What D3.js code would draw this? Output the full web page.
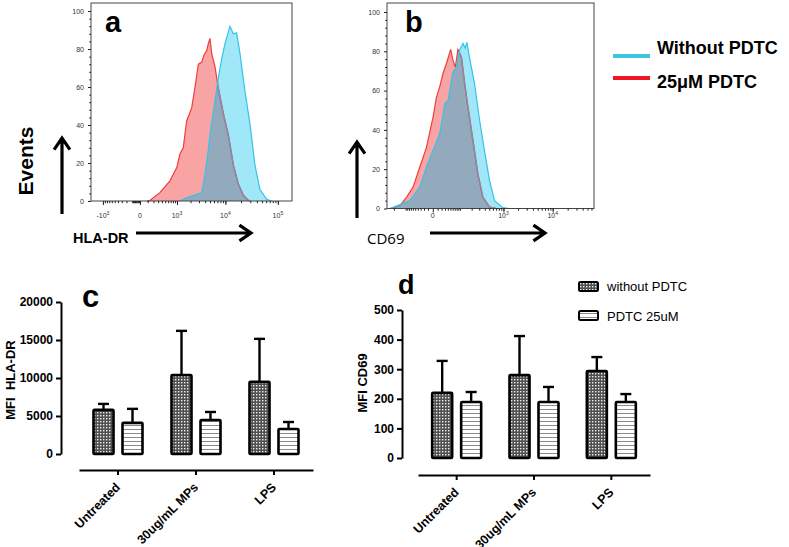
<!DOCTYPE html>
<html><head><meta charset="utf-8">
<script src="https://cdn.jsdelivr.net/npm/d3@7/dist/d3.min.js"></script>
<style>
body{margin:0;background:#fff;}
svg{display:block;font-family:"Liberation Sans",Arial,Helvetica,sans-serif;}
</style></head><body>
<svg id="fig" width="789" height="547"></svg>
<script>
// ---------------- DATA ----------------
// Flow-cytometry histograms: display channel (0-1024) vs events (% of max)
const hlaRedCh   = [285,301,351,402,437,453,470,487,513,530,547,564,576,589,598,606,615,632,649,674,699,725,750,776,801,810];
const hlaRedCnt  = [0,0.4,4.4,10.6,17.6,24.7,28,42,49,60,72,73,77,79,83,85.6,77.6,70.5,59,46,35,19,9,3,0.4,0];
const hlaBlueCh  = [453,487,538,564,581,598,606,615,632,649,666,683,708,725,742,759,784,810,835,861,895,920];
const hlaBlueCnt = [0,1.7,3.5,4.4,14,27,35,41,53,65,75,83,92,88,88.5,77.6,58,40.6,19,6,0.9,0];
const cd69RedCh   = [15,64,97,129,162,195,228,245,261,277,294,315,326,338,351,368,384,400,425,449,474,507,540];
const cd69RedCnt  = [0,1.5,5.8,10.9,21,31,46.6,56.8,62,68.7,73.8,81,75.5,72,81,77,63.6,51.7,34.7,17.7,5.8,0.7,0];
const cd69BlueCh  = [15,64,113,162,195,228,261,286,302,326,343,359,376,387,395,409,433,458,482,507,532,573,606];
const cd69BlueCnt = [0,2,4,10.9,21,29.6,38,53.4,55,69.5,72,80.6,84,81.5,84.5,76.4,63.6,44.9,29.6,14.3,4,0.4,0];
const countTicks = [0,20,40,60,80,100];
const hlaTickValues = [-1000,0,1000,10000,100000];
const hlaTickLabels = [["-10","3"],["0",""],["10","3"],["10","4"],["10","5"]];
const cd69TickValues = [0,1000,10000];
const cd69TickLabels = [["0",""],["10","3"],["10","4"]];
const histLegend = ["Without PDTC","25\u03bcM PDTC"];

// Bar charts: MFI mean and upper SD
const categories = ["Untreated","30ug/mL MPs","LPS"];
const seriesNames = ["without PDTC","PDTC 25uM"];
const hlaWithout = [5800,10400,9500];
const hlaWithoutSD = [790,5800,5650];
const hlaPdtc = [4100,4470,3290];
const hlaPdtcSD = [1840,1060,920];
const cd69Without = [220,280,294];
const cd69WithoutSD = [108,132,47];
const cd69Pdtc = [189,189,189];
const cd69PdtcSD = [34,51,27];
const hlaYTicks = [0,5000,10000,15000,20000];
const cd69YTicks = [0,100,200,300,400,500];

// ---------------- DRAWING ----------------
const svg = d3.select("#fig");
const defs = svg.append("defs");

// patterns
const pd = defs.append("pattern").attr("id","dots").attr("patternUnits","userSpaceOnUse").attr("width",3).attr("height",3);
pd.append("rect").attr("width",3).attr("height",3).attr("fill","#505050");
pd.append("rect").attr("x",1).attr("y",1).attr("width",1.4).attr("height",1.4).attr("fill","#f0f0f0");
const ps = defs.append("pattern").attr("id","stripes").attr("patternUnits","userSpaceOnUse").attr("width",4).attr("height",4);
ps.append("rect").attr("width",4).attr("height",4).attr("fill","#fff");
ps.append("rect").attr("y",1).attr("width",4).attr("height",1).attr("fill","#8a8a8a");
const fills = ["url(#dots)","url(#stripes)"];

function minorLog(maxNeg, maxPos, small){
  const m = [];
  const decs = small ? [10,100,1000,10000,100000] : [100,1000,10000,100000];
  decs.forEach(d=>{ for(let k=1;k<10;k++){ const v=k*d; if(v<=maxPos) m.push(v); if(v<=maxNeg) m.push(-v);} });
  return m;
}

function hist(o){
  const g = svg.append("g");
  const chX = d3.scaleLinear().domain([0,1024]).range([o.x0,o.x1]);
  const valX = d3.scaleSymlog().constant(o.c).domain(o.dom).range([o.x0,o.x1]);
  const y = d3.scaleLinear().domain([0,100]).range([o.y0,o.y100]);
  const red = o.redCh.map((c,i)=>[c,o.redCnt[i]]);
  const blue = o.blueCh.map((c,i)=>[c,o.blueCnt[i]]);
  const area = d3.area().x(d=>chX(d[0])).y0(y(0)).y1(d=>y(d[1]));
  const line = d3.line().x(d=>chX(d[0])).y(d=>y(d[1]));
  defs.append("clipPath").attr("id",o.id+"r").append("path").attr("d",area(red));
  defs.append("clipPath").attr("id",o.id+"b").append("path").attr("d",area(blue));
  g.append("path").attr("d",area(red)).attr("fill","#f9a4a4");
  g.append("path").attr("d",area(blue)).attr("fill","#a0e8f8");
  g.append("path").attr("d",area(blue)).attr("fill","#93aabd").attr("clip-path",`url(#${o.id}r)`);
  g.append("path").attr("d",line(red)).attr("fill","none").attr("stroke","#f03c3c").attr("stroke-width",1.2);
  g.append("path").attr("d",line(red)).attr("fill","none").attr("stroke","#8c88a6").attr("stroke-width",1.6).attr("clip-path",`url(#${o.id}b)`);
  g.append("path").attr("d",line(blue)).attr("fill","none").attr("stroke","#33c3ea").attr("stroke-width",1.2);
  // frame
  g.append("rect").attr("x",o.x0).attr("y",o.yTop).attr("width",o.x1-o.x0).attr("height",o.y0-o.yTop)
    .attr("fill","none").attr("stroke","#444").attr("stroke-width",1);
  // y axis
  const ya = g.append("g").attr("transform",`translate(${o.x0},0)`)
    .call(d3.axisLeft(y).tickValues(countTicks).tickSize(3).tickPadding(4));
  ya.select(".domain").remove();
  ya.selectAll("text").attr("font-size",7).attr("fill","#333").attr("font-family","Liberation Sans, Arial");
  const ym = g.append("g").attr("transform",`translate(${o.x0},0)`)
    .call(d3.axisLeft(y).tickValues(d3.range(0,101,4).filter(v=>v%20)).tickSize(1.8).tickFormat(""));
  ym.select(".domain").remove();
  g.selectAll(".tick line").attr("stroke","#222");
  // x axis
  const xa = g.append("g").attr("transform",`translate(0,${o.y0})`)
    .call(d3.axisBottom(valX).tickValues(o.ticks).tickSize(4).tickFormat(""));
  xa.select(".domain").remove();
  const xm = g.append("g").attr("transform",`translate(0,${o.y0})`)
    .call(d3.axisBottom(valX).tickValues(o.minor.filter(v=>v>o.dom[0]&&v<o.dom[1])).tickSize(2.2).tickFormat(""));
  xm.select(".domain").remove();
  g.selectAll(".tick line").attr("stroke","#222");
  o.ticks.forEach((v,i)=>{
    const t = g.append("text").attr("x",valX(v)).attr("y",218).attr("text-anchor","middle")
      .attr("font-size",7).attr("fill","#333");
    t.append("tspan").text(o.labels[i][0]);
    if(o.labels[i][1]) t.append("tspan").attr("dy",-3).attr("font-size",5).text(o.labels[i][1]);
  });
  g.append("text").attr("x",o.letterX).attr("y",32).attr("font-size",29).attr("font-weight","bold").text(o.letter);
}

hist({id:"ha",x0:91,x1:292,yTop:3,y0:201,y100:11,c:250,dom:[-1850,185000],
  redCh:hlaRedCh,redCnt:hlaRedCnt,blueCh:hlaBlueCh,blueCnt:hlaBlueCnt,
  ticks:hlaTickValues,labels:hlaTickLabels,minor:minorLog(900,185000,false).concat([-10,-20,-30,-40,-50,-60,-70,-80,-90]),
  letter:"a",letterX:105});
hist({id:"hb",x0:387,x1:594,yTop:3,y0:208.5,y100:12,c:40,dom:[-290,67400],
  redCh:cd69RedCh,redCnt:cd69RedCnt,blueCh:cd69BlueCh,blueCnt:cd69BlueCnt,
  ticks:cd69TickValues,labels:cd69TickLabels,minor:minorLog(290,67400,true),
  letter:"b",letterX:405});

// arrows
function arrow(x1,y1,x2,y2){
  const a = Math.atan2(y2-y1,x2-x1), L=14, w=0.6;
  const p1=[x2-L*Math.cos(a-w), y2-L*Math.sin(a-w)], p2=[x2-L*Math.cos(a+w), y2-L*Math.sin(a+w)];
  svg.append("path").attr("d",`M${x1},${y1}L${x2},${y2}M${p1}L${x2},${y2}L${p2}`)
    .attr("fill","none").attr("stroke","#000").attr("stroke-width",3.2).attr("stroke-linejoin","miter");
}
arrow(62,214,62,138);
arrow(136,233,251,233);
arrow(357,218,357,142);
arrow(430,233,545,233);
svg.append("text").attr("transform","translate(33,161) rotate(-90)").attr("text-anchor","middle")
  .attr("font-size",21).attr("font-weight","bold").text("Events");
svg.append("text").attr("x",73).attr("y",243).attr("font-size",14.5).attr("font-weight","bold").text("HLA-DR");
svg.append("text").attr("x",367).attr("y",244).attr("font-size",15).attr("font-family","Open Sans, Liberation Sans").text("CD69");

// histogram legend
const hl = [{c:"#3cc6e0",y:56,ty:54},{c:"#f01620",y:78,ty:88}];
hl.forEach((d,i)=>{
  svg.append("line").attr("x1",613).attr("x2",650).attr("y1",d.y).attr("y2",d.y).attr("stroke",d.c).attr("stroke-width",4);
  svg.append("text").attr("x",657).attr("y",d.ty).attr("font-size",18).attr("font-weight","bold").text(histLegend[i]);
});

// bar panels
function bars(o){
  const g = svg.append("g");
  const x = d3.scaleBand().domain(categories).range([o.ax0,o.ax1]);
  const inner = d3.scaleBand().domain(seriesNames).range([-24.5,24.5]).paddingInner(0.31);
  const y = d3.scaleLinear().domain([0,o.max]).range([o.yb,o.yt]);
  const data = [];
  categories.forEach((c,i)=>{
    data.push({c,s:seriesNames[0],v:o.v[0][i],sd:o.sd[0][i],k:0});
    data.push({c,s:seriesNames[1],v:o.v[1][i],sd:o.sd[1][i],k:1});
  });
  const cx = d=>x(d.c)+x.bandwidth()/2+inner(d.s);
  // error bars
  data.forEach(d=>{
    const m = cx(d)+inner.bandwidth()/2;
    g.append("line").attr("x1",m).attr("x2",m).attr("y1",y(d.v)).attr("y2",y(d.v+d.sd)).attr("stroke","#000").attr("stroke-width",2.4);
    g.append("line").attr("x1",m-5.5).attr("x2",m+5.5).attr("y1",y(d.v+d.sd)).attr("y2",y(d.v+d.sd)).attr("stroke","#000").attr("stroke-width",2.4);
  });
  g.selectAll("rect.bar").data(data).join("rect").attr("class","bar")
    .attr("x",cx).attr("width",inner.bandwidth()).attr("y",d=>y(d.v)).attr("height",d=>y(0)-y(d.v))
    .attr("fill",d=>fills[d.k]).attr("stroke","#000").attr("stroke-width",2.6).attr("stroke-linejoin","round").attr("rx",1);
  // y axis
  const ya = g.append("g").attr("transform",`translate(${o.yx},0)`)
    .call(d3.axisLeft(y).tickValues(o.ticks).tickSize(5).tickSizeOuter(0).tickPadding(3).tickFormat(d3.format("d")));
  ya.select(".domain").attr("stroke-width",2);
  ya.selectAll(".tick line").attr("stroke-width",2);
  ya.selectAll("text").attr("font-size",12).attr("font-weight","bold").attr("font-family","Liberation Sans, Arial").attr("fill","#000");
  // x axis
  const xa = g.append("g").attr("transform",`translate(0,${o.axY})`)
    .call(d3.axisBottom(x).tickSize(5).tickSizeOuter(0).tickFormat(""));
  xa.select(".domain").attr("stroke-width",2);
  xa.selectAll(".tick line").attr("stroke-width",2);
  categories.forEach(c=>{
    g.append("text").attr("transform",`translate(${x(c)+x.bandwidth()/2+3},${o.axY+18}) rotate(-45)`)
      .attr("text-anchor","end").attr("font-size",12.5).attr("font-weight","bold").text(c);
  });
  g.append("text").attr("transform",`translate(${o.titleX},${o.titleY}) rotate(-90)`).attr("text-anchor","middle")
    .attr("font-size",13).attr("font-weight","bold").text(o.title);
  g.append("text").attr("x",o.letterX).attr("y",o.letterY).attr("font-size",o.letterSize).attr("font-weight","bold").text(o.letter);
}

bars({ax0:79,ax1:313,axY:470,yx:61,yb:454,yt:302,max:20000,ticks:hlaYTicks,
  v:[hlaWithout,hlaPdtc],sd:[hlaWithoutSD,hlaPdtcSD],title:"MFI\u00a0\u00a0HLA-DR",titleX:15,titleY:380,
  letter:"c",letterX:82,letterY:307,letterSize:31});
bars({ax0:418,ax1:650,axY:475,yx:402,yb:458,yt:310,max:500,ticks:cd69YTicks,
  v:[cd69Without,cd69Pdtc],sd:[cd69WithoutSD,cd69PdtcSD],title:"MFI CD69",titleX:367,titleY:383,
  letter:"d",letterX:398,letterY:294,letterSize:27});

// bar legend
[{y:282,h:9,ty:291},{y:311,h:9,ty:321}].forEach((d,i)=>{
  svg.append("rect").attr("x",579).attr("y",d.y).attr("width",19).attr("height",d.h).attr("rx",1.5)
    .attr("fill",fills[i]).attr("stroke","#000").attr("stroke-width",2);
  svg.append("text").attr("x",607).attr("y",d.ty).attr("font-size",13).text(seriesNames[i]);
});
</script>
</body></html>
